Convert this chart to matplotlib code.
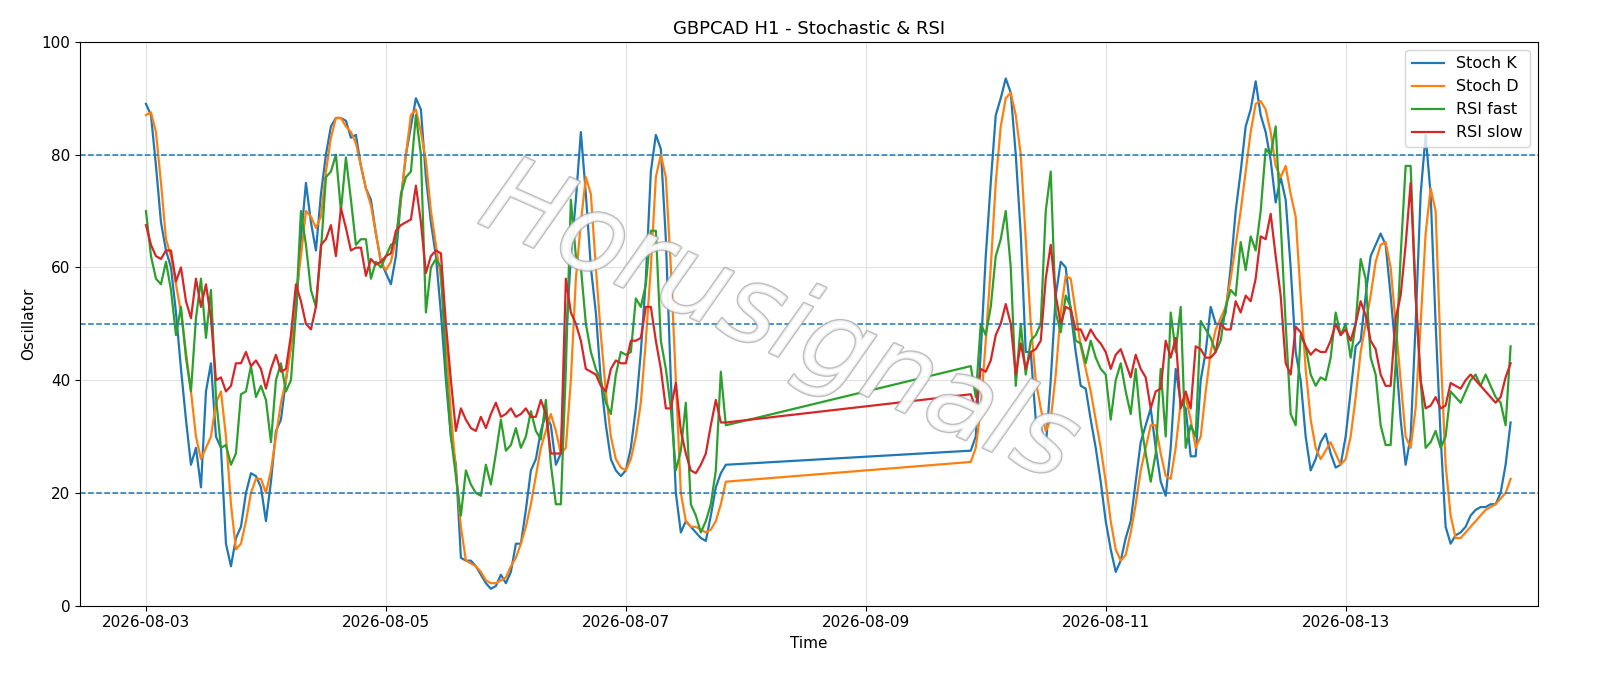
import matplotlib
matplotlib.use("Agg")
import matplotlib.pyplot as plt
import matplotlib.patheffects as pe
import pandas as pd
import numpy as np

seg1_start = "2026-08-03 00:00"
seg2_start = "2026-08-09 21:00"

k1 = [89,87,78,68,63,60,52,42,33,25,28,21,38,43,30,28,11,7,12,14,20,23.5,23,21,15,22,31,33,40,46,52,65,75,68,63,73,80,85,86.5,86.5,86,83,83.5,78,74,72,66,61,59,57,62,72,80,85,90,88,76,68,62,52,40,30,25,8.5,8,8,7,5.5,4,3,3.5,5.5,4,6,11,11,17,24,26,31,34,32,25,27,47,62,72,84,73,60,52,40,32,26,24,23,24,28,35,45,58,77,83.5,81,65,40,20,13,15,14,13,12,11.5,16,21,23.5,25]
k2 = [27.5,30,45,62,75,87,90,93.5,91,80,66,45,45,33,32,28,40,55,61,60,52,45,39,38.5,33,28,22,15,10,6,8,12,15,22,29,32,35,28,22,19.5,28,42,36,35,26.5,26.5,40,45,53,50,50,52,60,70,77,85,88,93,87,84,79,71.5,76,72,60,45,40,30,24,26,29,30.5,27,24.5,25,30,38,46,47,55,62,64,66,64,55,45,33,25,30,50,73,83.5,73,50,30,14,11,12.5,13,14,16,17,17.5,17.5,18,18,20,25,32.5]
d1 = [87,87.5,84,75,65,62,57,52,45,38,30,26,28,30,36,38,30,18,10,11,15,20,22.5,22.5,20,24,30,36,40,46,55,62,70,69,67,69,77,83,86.5,86.5,85,84,82,78,74,71,66,61,59.5,61,65,72,80,87,88,84,79,70,64,58,48,34,24,14,8,7.5,7,6,4.5,4,4,4.5,5,7,8.5,11,14,18,23,28,31,34,31,27,28,40,58,68,76,73,60,48,38,30,26,24.5,24,26,30,36,47,60,76,80,76,60,40,20,15,14,14,13.5,13,13.5,15,18,22]
d2 = [25.5,28,35,47,60,75,85,90,91,87,80,65,50,40,35,31,33,41,52,58.5,58,52,46,42,38,33,28,22,15,10,8,9,13,18,24,28,32,32,27,23,22.5,28,36,37,33,28,30,38,45,49,51,53,58,64,70,77,84,89,89.5,88,84,78,76,78,73,69,55,42,33,28,26,27.5,29,27,25,26,30,37,45,50,55,61,64,64.5,60,50,40,30,28,35,50,66,74,70,45,25,16,12,12,13,14,15,16,17,17.5,18,19,20,22.5]
rf1 = [70,62,58,57,61,56,48,53,44,38,51,58,47.5,56,37,28,28.5,25,27,37.5,38,42.5,37,39,36.5,29,40,43,38,40,52,70,64,56,53,63,76,77,80,70,79.5,72,64,65,65,58,61,60,62,64,64.5,73,76,77,87,80,52,60,61.5,60,42,30,23,16,24,21.5,20,19.5,25,21.5,27,33,27.5,28.5,31.5,28,30,34.5,31,29.5,36.5,25,18,18,42,72,62,60,50,45,42,40,36,34,41,45,44.5,45,54.5,53,57,66.5,66.5,47,42,35,24,27.5,36,18,16,13,15,18,24,41.5,32]
rf2 = [42.5,37,50,48,53,62,65,70,60,39,50,41,47,48,50,70,77,52,48.5,55,53,47,46.5,43,47,44,42,41,33,40,43,38,34,42,32.5,27,22,27,42,30,52,45,53,28,32,30,50.5,49,47.5,45,47,53,56,55,64.5,59.5,65.5,63,70,81,80,85,68,50,34,32,48,46,41,39,40.5,40,44,52,48,50,44,50,61.5,58,44,41,32,28.5,28.5,43,62,78,78,55,40,28,29,31,28,30,38,37,36,38,40,41,39,41,39,37,36,32,46]
rs1 = [67.5,64,62,61.5,63,63,57.5,60,54,51,58,53,57,51,40,40.5,38,39,43,43,45,42.5,43.5,42,38.5,42,44.5,41.5,42,48,57,54,50,49,53,64,65,67.5,62,70.5,67,63,63.5,63.5,58.5,61.5,60.5,61,62,62.5,66.5,67.5,68,68.5,74.5,68,59,62,63,62.5,50,40,31,35,33,31.5,31,33.5,31.5,34,36,33.5,34,35,33.5,34,35,33.5,33.5,36.5,34,27,27,27,58,52,50,47,42,41.5,41,39,38,42,43.5,43,43,47,47,47.5,53,53,47,42,35,35,39.5,31,27,24,23.5,25,27,32,36.5,32.5,32.5]
rs2 = [37.5,35,42,41.5,43.5,48,50,53.5,50,41,46.5,42,45,45.5,47,58,64,55,50,53,52.5,49,49,47,49,47.5,46.5,45,42,44.5,45.5,43,40.5,44.5,42,40.5,35,38,38.5,47,44,47.5,35,38,35,46,45.5,44,44,45,50,49,49,54,52,55,54,58,65.5,65,69.5,62,55,43,41,49.5,48.5,46,44.5,45.5,45,45,47,50,48,49,47,50,54,51.5,47,45.5,41,39,39,51,55,64,75,55,40,35,35.5,37,35,35.5,39.5,39,38.5,40,41,40,39,38,37,36,37,40.5,43]


def series(a, b):
    t = list(pd.date_range(seg1_start, periods=len(a), freq="h")) + \
        list(pd.date_range(seg2_start, periods=len(b), freq="h"))
    return t, list(a) + list(b)

fig, ax = plt.subplots(figsize=(16, 6.86), dpi=100)
for (a, b), lab, c in [((k1, k2), "Stoch K", "#1f77b4"), ((d1, d2), "Stoch D", "#ff7f0e"),
                       ((rf1, rf2), "RSI fast", "#2ca02c"), ((rs1, rs2), "RSI slow", "#d62728")]:
    t, v = series(a, b)
    ax.plot(t, v, color=c, lw=1.6, label=lab)

for y in (20, 50, 80):
    ax.axhline(y, color="#1f77b4", ls="--", lw=1.1)

ax.set_ylim(0, 100)
t0 = pd.Timestamp(seg1_start)
ax.set_xlim(t0 - pd.Timedelta(hours=13.2), t0 + pd.Timedelta(hours=278.4))
ax.set_xticks(pd.date_range("2026-08-03", "2026-08-13", freq="2D"))
ax.xaxis.set_major_formatter(matplotlib.dates.DateFormatter("%Y-%m-%d"))
ax.grid(True, color="#e0e0e0", lw=0.8)
ax.set_axisbelow(True)
ax.set_title("GBPCAD H1 - Stochastic & RSI", fontsize=13)
ax.set_xlabel("Time", fontsize=11)
ax.set_ylabel("Oscillator", fontsize=11)
ax.tick_params(labelsize=11)
ax.legend(loc="upper right", fontsize=11.5)

ax.text(0.48, 0.5, "Horusignals", transform=ax.transAxes, fontsize=78, style="italic",
        rotation=-24, ha="center", va="center", color="white", alpha=0.75,
        path_effects=[pe.withStroke(linewidth=2, foreground="#a8a8a8")], zorder=5)

fig.subplots_adjust(left=0.05, right=0.961, top=0.939, bottom=0.117)
fig.savefig("out.png", dpi=100)
